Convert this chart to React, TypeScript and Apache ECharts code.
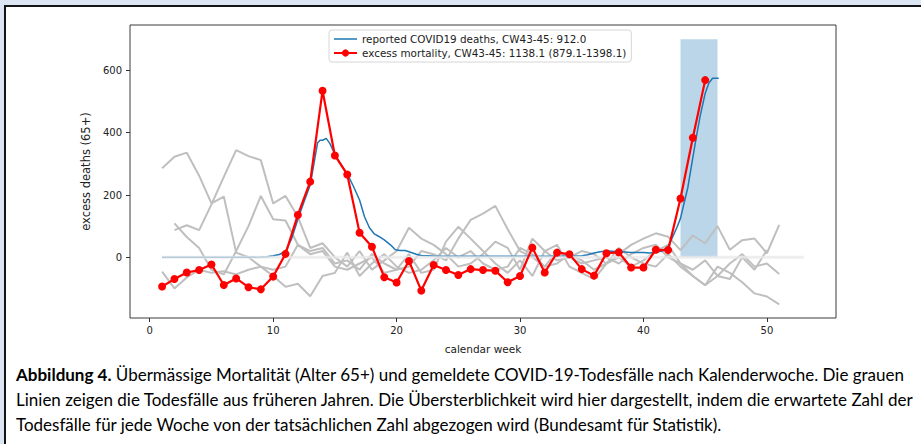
import React, { useEffect, useRef } from 'react';
import * as echarts from 'echarts';

const weeks = [1, 2, 3, 4, 5, 6, 7, 8, 9, 10, 11, 12, 13, 14, 15, 16, 17, 18, 19, 20, 21, 22, 23, 24, 25, 26, 27, 28, 29, 30, 31, 32, 33, 34, 35, 36, 37, 38, 39, 40, 41, 42, 43, 44, 45, 46, 47, 48, 49, 50, 51];

const excessMortality = [-94, -70, -49, -41, -23, -89, -68, -96, -103, -62, 11, 136, 243, 535, 327, 266, 79, 34, -64, -81, -12, -107, -25, -41, -57, -38, -41, -43, -80, -60, 31, -49, 15, 10, -38, -59, 13, 16, -33, -33, 24, 23, 189, 384, 569];

const covidWeeks = [1, 2, 3, 4, 5, 6, 7, 8, 9, 9.5, 10, 10.5, 11, 11.5, 12, 12.5, 13, 13.3, 13.6, 13.8, 14, 14.3, 14.6, 15, 15.5, 16, 16.5, 17, 17.4, 17.8, 18.2, 18.6, 19, 19.5, 19.9, 20.3, 20.7, 21, 21.6, 22, 23, 24, 25, 26, 27, 28, 29, 30, 31, 32, 33, 34, 35, 35.5, 36, 36.5, 37, 37.5, 38, 38.5, 39, 39.5, 40, 40.5, 41, 41.5, 42, 42.3, 42.7, 43, 43.3, 43.6, 44, 44.3, 44.6, 45, 45.3, 45.6, 46.1];
const covidDeaths = [0, 0, 0, 0, 0, 0, 0, 0, 1, 2, 5, 9, 20, 60, 122, 178, 232, 300, 368, 376, 376, 382, 365, 330, 298, 268, 228, 184, 130, 95, 75, 66, 56, 40, 24, 22, 22, 18, 10, 6, 4, 3, 3, 3, 3, 3, 3, 3, 3, 3, 3, 4, 5, 8, 14, 18, 20, 19, 18, 17, 15, 15, 15, 14, 16, 20, 35, 60, 95, 125, 175, 225, 320, 390, 455, 526, 560, 575, 575];

const previousYearA = [286, 323, 336, 262, 173, 195, 15, 0, -30, -40, -30, 40, 20, 30, -20, -10, -40, 10, -20, -40, -30, 20, 10, -10, 60, 120, 140, 165, 90, 20, 0, -30, -20, 10, -10, -40, -20, 10, 40, 60, 77, 66, 23, 70, 45, 100, 24, 55, 60, 13, 104];
const previousYearB = [null, 87, 103, 87, 170, 258, 344, 325, 312, 173, 197, 130, 30, 45, 0, -30, 20, -40, -10, 20, 95, 60, 40, 10, -30, -20, 10, 50, 30, -40, 60, 20, -10, 0, 20, 10, -20, 0, -30, -10, 20, 40, -20, -40, -10, -60, -20, 10, -30, -20, -54];
const previousYearC = [-46, -100, -65, -40, -50, -45, -55, -40, -30, -60, -95, -85, -125, -60, -50, 15, -60, -20, 10, -30, -50, -40, -10, 30, 0, 20, -20, -40, -30, 30, 10, -30, 20, 0, -20, -10, 0, -20, 10, 30, 40, 0, -20, -60, -90, -30, -50, -80, -116, -126, -151];
const previousYearD = [null, 109, 65, 30, -40, -55, 20, 100, 197, 122, 118, 40, 10, 20, -30, -40, -20, 0, -50, -40, 10, -50, -40, 50, 98, 60, 20, -20, -50, -10, -60, 20, 40, -30, -50, -70, -20, 30, 0, -20, -30, 10, -30, -60, -90, -60, -70, 0, -40, 23, null];

const zeroLineWeeks = [1, 53];
const zeroLineValues = [0, 0];
const spanWeeks = [43, 46];
const spanValues = [0, 700];
const xTicks = [0, 10, 20, 30, 40, 50];
const yTicks = [0, 200, 400, 600];

const covidName = 'reported COVID19 deaths, CW43-45: 912.0';
const excessName = 'excess mortality, CW43-45: 1138.1 (879.1-1398.1)';

const captionLines = [
  '{b|Abbildung 4.} Übermässige Mortalität (Alter 65+) und gemeldete COVID-19-Todesfälle nach Kalenderwoche. Die grauen',
  'Linien zeigen die Todesfälle aus früheren Jahren. Die Übersterblichkeit wird hier dargestellt, indem die erwartete Zahl der',
  'Todesfälle für jede Woche von der tatsächlichen Zahl abgezogen wird (Bundesamt für Statistik).',
];

// thin horizontal bar icon (bounding box 23x9) for the plain line legend entry
const lineIcon = 'path://M0,0 L0.01,0 L0.01,0.01 Z M0,3.8 L23,3.8 L23,5.3 L0,5.3 Z M22.99,8.99 L23,8.99 L23,9 Z';

function pairs(xs: number[], ys: (number | null)[]) {
  const out: number[][] = [];
  ys.forEach((y, i) => {
    if (y !== null && i < xs.length) out.push([xs[i], y]);
  });
  return out;
}

const grayLine = (name: string, values: (number | null)[]) => ({
  name,
  type: 'line',
  data: pairs(weeks, values),
  symbol: 'none',
  lineStyle: { color: '#bfbfbf', width: 2 },
  itemStyle: { color: '#bfbfbf' },
  z: 2,
  silent: true,
});

export default function App() {
  const ref = useRef<HTMLDivElement>(null);
  useEffect(() => {
    if (!ref.current) return;
    const chart = echarts.init(ref.current, null, { renderer: 'svg' });
    const font = 'DejaVu Sans';
    const captionSize = 17;
    chart.setOption({
      animation: false,
      textStyle: { fontFamily: font },
      grid: {
        left: 130,
        right: 85,
        top: 25,
        bottom: 126,
        show: true,
        borderColor: '#3a3a3a',
        borderWidth: 1,
        backgroundColor: 'transparent',
      },
      legend: {
        data: [{ name: covidName, icon: lineIcon }, { name: excessName }],
        orient: 'vertical',
        left: 329,
        top: 30,
        itemWidth: 23,
        itemHeight: 9,
        itemGap: 4,
        padding: [4, 5, 4, 4],
        borderColor: '#d6d6d6',
        borderWidth: 1,
        borderRadius: 3,
        backgroundColor: '#ffffff',
        textStyle: { fontSize: 10.4, fontFamily: font, color: '#222' },
      },
      xAxis: {
        type: 'value',
        min: -1.6,
        max: 55.6,
        name: 'calendar week',
        nameLocation: 'middle',
        nameGap: 25,
        nameTextStyle: { fontSize: 10.5, color: '#222', fontFamily: font },
        axisLine: { show: false, onZero: false },
        splitLine: { show: false },
        axisTick: { show: true, length: 4, lineStyle: { color: '#333' }, customValues: xTicks },
        axisLabel: { fontSize: 10, color: '#222', margin: 7, customValues: xTicks },
      },
      yAxis: {
        type: 'value',
        min: -195,
        max: 746,
        name: 'excess deaths (65+)',
        nameLocation: 'middle',
        nameRotate: 90,
        nameGap: 30,
        nameTextStyle: { fontSize: 11.5, color: '#222', fontFamily: font },
        axisLine: { show: false, onZero: false },
        splitLine: { show: false },
        axisTick: { show: true, length: 4, lineStyle: { color: '#333' }, customValues: yTicks },
        axisLabel: { fontSize: 10, color: '#222', margin: 8, customValues: yTicks },
      },
      series: [
        {
          name: 'span',
          type: 'line',
          data: [],
          silent: true,
          z: 1,
          markArea: {
            silent: true,
            itemStyle: { color: '#bcd6e9' },
            data: [[{ xAxis: spanWeeks[0], yAxis: spanValues[0] }, { xAxis: spanWeeks[1], yAxis: spanValues[1] }]],
          },
        },
        grayLine('year A', previousYearA),
        grayLine('year B', previousYearB),
        grayLine('year C', previousYearC),
        grayLine('year D', previousYearD),
        {
          name: covidName,
          type: 'line',
          data: pairs(covidWeeks, covidDeaths),
          symbol: 'none',
          lineStyle: { color: '#1f77b4', width: 1.5 },
          itemStyle: { color: '#1f77b4' },
          z: 3,
        },
        {
          name: 'zero',
          type: 'line',
          data: pairs(zeroLineWeeks, zeroLineValues),
          symbol: 'none',
          silent: true,
          lineStyle: { color: 'rgba(232,232,232,0.75)', width: 3 },
          z: 4,
        },
        {
          name: excessName,
          type: 'line',
          data: pairs(weeks, excessMortality),
          symbol: 'circle',
          symbolSize: 8,
          lineStyle: { color: '#ff0000', width: 2.2 },
          itemStyle: { color: '#ff0000' },
          z: 5,
        },
      ],
      graphic: captionLines.map((t, i) => ({
        type: 'text',
        left: 16,
        top: 366 + i * 25,
        silent: true,
        style: {
          text: t,
          fontFamily: 'Lato',
          fontSize: captionSize,
          fill: '#000',
          rich: { b: { fontWeight: 'bold', fontFamily: 'Lato', fontSize: captionSize, fill: '#000' } },
        },
      })),
    });
    return () => chart.dispose();
  }, []);

  return (
    <div style={{ position: 'absolute', left: 0, top: 0, width: 921, height: 444, overflow: 'hidden', background: '#dce6f2' }}>
      <div
        style={{
          position: 'absolute',
          left: 4,
          top: 5,
          width: 960,
          height: 480,
          background: '#ffffff',
          border: '2px solid #141414',
        }}
      />
      <div ref={ref} style={{ position: 'absolute', left: 0, top: 0, width: 921, height: 444 }} />
    </div>
  );
}
